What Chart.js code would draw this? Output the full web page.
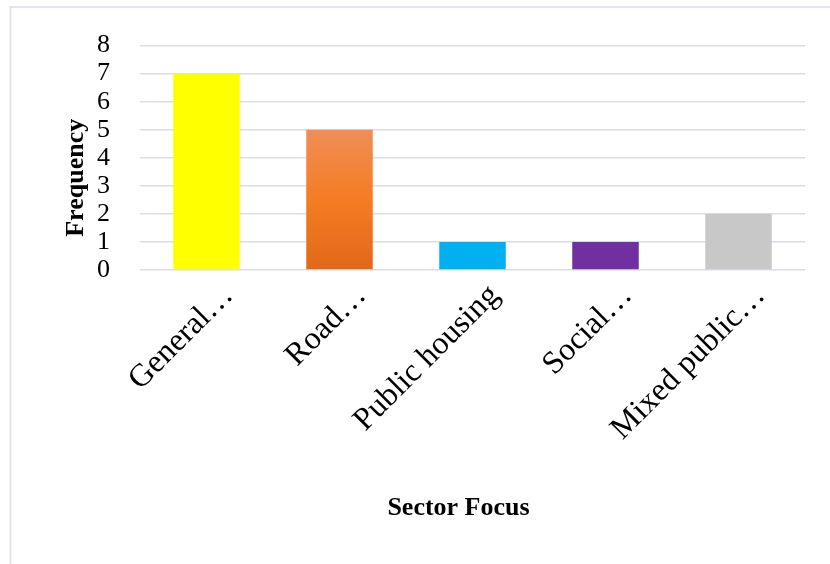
<!DOCTYPE html>
<html>
<head>
<meta charset="utf-8">
<script src="https://cdn.jsdelivr.net/npm/chart.js@4/dist/chart.umd.min.js"></script>
<style>
  html, body { margin: 0; padding: 0; background: #ffffff; }
  #wrap { position: relative; width: 830px; height: 564px; }
</style>
</head>
<body>
<div id="wrap"><canvas id="chart" width="830" height="564"></canvas></div>
<script>
// Data
const categories = ['General…', 'Road…', 'Public housing', 'Social…', 'Mixed public…'];
const frequency = [7, 5, 1, 1, 2];
const barColors = ['#ffff00', 'gradient', '#00b0f0', '#7030a0', '#c8c8c8'];
const yTicks = [0, 1, 2, 3, 4, 5, 6, 7, 8];
const xTitle = 'Sector Focus';
const yTitle = 'Frequency';

const serif = "'Liberation Serif', 'Times New Roman', serif";

// orange bar uses a vertical gradient like the original
const barFill = (ctx) => {
  const c = barColors[ctx.dataIndex];
  if (c !== 'gradient') return c;
  const chart = ctx.chart;
  if (!chart.chartArea) return '#f47c20';
  const y = chart.scales.y;
  const top = y.getPixelForValue(frequency[ctx.dataIndex]);
  const bottom = y.getPixelForValue(0);
  const g = chart.ctx.createLinearGradient(0, top, 0, bottom);
  g.addColorStop(0, '#f08e58');
  g.addColorStop(0.5, '#f47c22');
  g.addColorStop(1, '#e2681a');
  return g;
};

// light frame (top and left edges only) + axis titles placed like the original
const frame = {
  id: 'frame',
  beforeDraw(chart) {
    const ctx = chart.ctx;
    ctx.save();
    ctx.strokeStyle = '#e1e5ec';
    ctx.lineWidth = 2;
    ctx.beginPath();
    ctx.moveTo(chart.width, 7);
    ctx.lineTo(10.5, 7);
    ctx.lineTo(10.5, chart.height);
    ctx.stroke();
    ctx.restore();
  },
  afterDraw(chart) {
    const ctx = chart.ctx;
    const area = chart.chartArea;
    ctx.save();
    ctx.fillStyle = '#000';
    ctx.font = 'bold 26px ' + serif;
    ctx.textAlign = 'center';
    ctx.textBaseline = 'middle';
    ctx.fillText(xTitle, area.left + (area.right - area.left) / 2 - 14, 508);
    ctx.translate(76, area.top + (area.bottom - area.top) / 2 + 20);
    ctx.rotate(-Math.PI / 2);
    ctx.fillText(yTitle, 0, 0);
    ctx.restore();
  }
};

new Chart(document.getElementById('chart'), {
  type: 'bar',
  data: {
    labels: categories,
    datasets: [{
      label: 'Frequency',
      data: frequency,
      backgroundColor: barFill,
      borderWidth: 0,
      barPercentage: 0.5,
      categoryPercentage: 1.0
    }]
  },
  options: {
    responsive: false,
    animation: false,
    layout: { padding: { left: 60, right: 25, top: 40, bottom: 43 } },
    plugins: {
      legend: { display: false },
      tooltip: { enabled: false }
    },
    scales: {
      x: {
        grid: { display: false, drawTicks: false },
        border: { display: false },
        ticks: {
          color: '#000',
          font: { family: serif, size: 32 },
          minRotation: 45,
          maxRotation: 45,
          autoSkip: false,
          padding: 7,
          labelOffset: 22
        },
        afterFit: (scale) => { scale.height = 251; }
      },
      y: {
        min: 0,
        max: 8,
        afterBuildTicks: (scale) => { scale.ticks = yTicks.map(v => ({ value: v })); },
        grid: { color: '#d9dde6', lineWidth: 1.5, drawTicks: false },
        border: { display: false },
        ticks: {
          color: '#000',
          font: { family: serif, size: 26 },
          padding: 30,
          autoSkip: false
        },
        afterFit: (scale) => { scale.width = 80; }
      }
    }
  },
  plugins: [frame]
});
</script>
</body>
</html>
